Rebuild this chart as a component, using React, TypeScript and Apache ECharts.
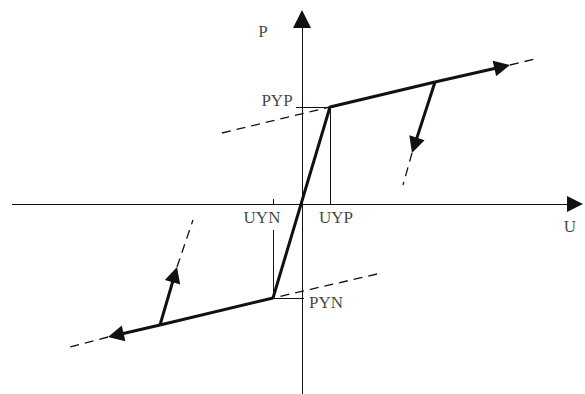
import React, { useEffect, useRef } from "react";
import * as echarts from "echarts";

// Drawing units: U horizontal, P vertical (origin where axes cross)
const uRange = [-302, 283];
const pRange = [-190, 204];

// Axes extents (arrow tips)
const uAxis = [[-290, 0], [281, 0]];
const pAxis = [[0, -190], [0, 194]];

// Yield points
const UYP = 28;
const PYP = 97;
const UYN = -29;
const PYN = -94;

// Loading path points
const upperUnload = [133, 122];
const upperArrowTip = [208, 139];
const upperDashEnd = [233, 145];
const upperDashStart = [-80, 71];
const upperUnloadTip = [110, 51];
const upperUnloadDashEnd = [101, 19];
const lowerUnload = [-142, -121];
const lowerArrowTip = [-194, -133];
const lowerDashEnd = [-232, -143];
const lowerDashStart = [75, -70];
const lowerUnloadTip = [-125, -63];
const lowerUnloadDashEnd = [-109, -16];

// Labels
const labelNames = ["P", "U", "PYP", "PYN", "UYP", "UYN"];

// Move the end point back so a centred triangle symbol has its tip at `to`
function back(from: number[], to: number[], d: number) {
  const dx = to[0] - from[0];
  const dy = to[1] - from[1];
  const len = Math.hypot(dx, dy);
  return [to[0] - (dx / len) * d, to[1] - (dy / len) * d];
}

export default function App() {
  const ref = useRef<HTMLDivElement>(null);
  useEffect(() => {
    if (!ref.current) return;
    const chart = echarts.init(ref.current, null, { renderer: "svg" });
    const ink = "#111";
    const labelPos: Record<string, number[]> = {
      P: [-39, 173],
      U: [268, -22],
      PYP: [-25, 104],
      PYN: [24, -98],
      UYP: [34, -13],
      UYN: [-40, -13],
    };
    const axisArrow = 18;
    const thickArrow = 16;
    chart.setOption({
      animation: false,
      backgroundColor: "#fff",
      grid: { left: 0, right: 0, top: 0, bottom: 0 },
      xAxis: { type: "value", min: uRange[0], max: uRange[1], show: false },
      yAxis: { type: "value", min: pRange[0], max: pRange[1], show: false },
      series: [
        {
          type: "lines",
          coordinateSystem: "cartesian2d",
          symbol: "none",
          lineStyle: { color: ink, width: 1, opacity: 1 },
          data: [{ coords: [uAxis[0], back(uAxis[0], uAxis[1], 8)] }, { coords: [pAxis[0], back(pAxis[0], pAxis[1], 8)] }],
          z: 1,
        },
        {
          type: "lines",
          coordinateSystem: "cartesian2d",
          symbol: ["none", "triangle"],
          symbolSize: [9, 16],
          lineStyle: { color: ink, width: 1, opacity: 1 },
          data: [{ coords: [uAxis[0], back(uAxis[0], uAxis[1], 8)] }],
          z: 1,
        },
        {
          type: "lines",
          coordinateSystem: "cartesian2d",
          symbol: ["none", "triangle"],
          symbolSize: [10, axisArrow],
          lineStyle: { color: ink, width: 1, opacity: 1 },
          data: [{ coords: [pAxis[0], back(pAxis[0], pAxis[1], axisArrow / 2)] }],
          z: 1,
        },
        {
          type: "lines",
          coordinateSystem: "cartesian2d",
          symbol: "none",
          lineStyle: { color: ink, width: 1, opacity: 1 },
          data: [
            { coords: [[-6, PYP], [UYP, PYP]] },
            { coords: [[UYP, PYP], [UYP, 0]] },
            { coords: [[UYN, 0], [UYN, 5]] },
            { coords: [[UYN, -26], [UYN, PYN]] },
            { coords: [[UYN, PYN], [2, PYN]] },
          ],
          z: 2,
        },
        {
          type: "lines",
          coordinateSystem: "cartesian2d",
          symbol: "none",
          lineStyle: { color: ink, width: 1.3, opacity: 1, type: [9, 6] },
          data: [
            { coords: [upperDashStart, [UYP, PYP]] },
            { coords: [upperArrowTip, upperDashEnd] },
            { coords: [upperUnloadTip, upperUnloadDashEnd] },
            { coords: [lowerDashStart, [UYN, PYN]] },
            { coords: [lowerArrowTip, lowerDashEnd] },
            { coords: [lowerUnloadTip, lowerUnloadDashEnd] },
          ],
          z: 3,
        },
        {
          type: "line",
          symbol: "none",
          lineStyle: { color: ink, width: 3 },
          data: [lowerUnload, [UYN, PYN], [UYP, PYP], upperUnload],
          z: 4,
        },
        {
          type: "lines",
          coordinateSystem: "cartesian2d",
          symbol: ["none", "triangle"],
          symbolSize: [8, thickArrow],
          lineStyle: { color: ink, width: 3, opacity: 1 },
          data: [
            { coords: [upperUnload, back(upperUnload, upperArrowTip, thickArrow / 2)] },
            { coords: [upperUnload, back(upperUnload, upperUnloadTip, thickArrow / 2)] },
            { coords: [lowerUnload, back(lowerUnload, lowerArrowTip, thickArrow / 2)] },
            { coords: [lowerUnload, back(lowerUnload, lowerUnloadTip, thickArrow / 2)] },
          ],
          z: 4,
        },
        {
          type: "scatter",
          symbolSize: 1,
          itemStyle: { color: "rgba(0,0,0,0)" },
          label: {
            show: true,
            position: "inside",
            formatter: (p: any) => p.name,
            fontFamily: "Liberation Serif",
            fontSize: 17,
            color: ink,
          },
          data: labelNames.map((n) => ({ name: n, value: labelPos[n] })),
          z: 5,
        },
      ],
    });
    return () => chart.dispose();
  }, []);
  return (
    <div
      ref={ref}
      style={{ position: "fixed", left: 0, top: 0, width: 585, height: 394, background: "#fff" }}
    />
  );
}
